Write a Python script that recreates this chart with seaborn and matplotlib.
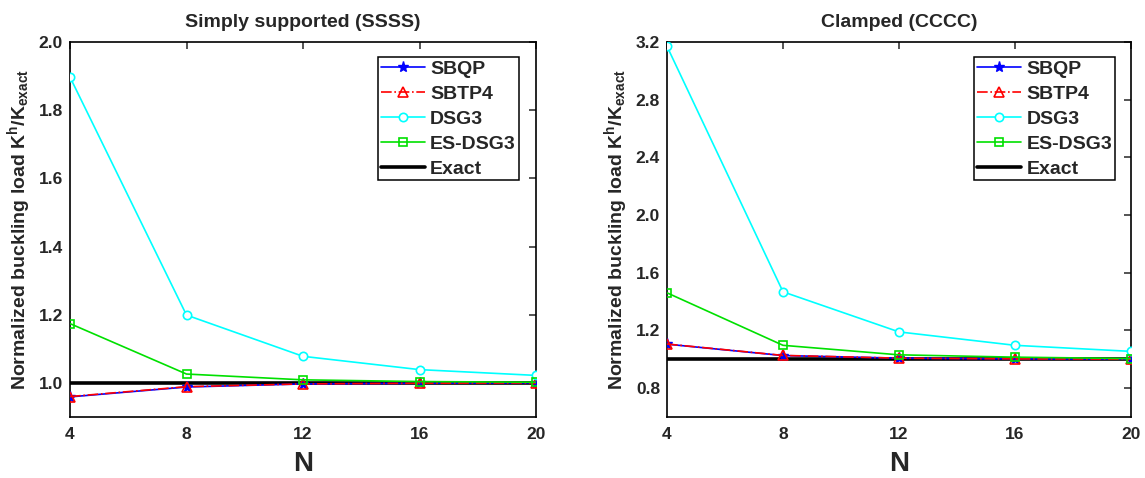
import matplotlib
matplotlib.use("Agg")
import matplotlib.pyplot as plt
import seaborn as sns
import pandas as pd

N = [4, 8, 12, 16, 20]

# Simply supported (SSSS)
ss_sbqp = [0.959, 0.988, 0.997, 0.999, 1.000]
ss_sbtp4 = [0.960, 0.989, 0.997, 0.999, 1.000]
ss_dsg3 = [1.897, 1.199, 1.078, 1.039, 1.022]
ss_esdsg3 = [1.174, 1.026, 1.009, 1.004, 1.002]
ss_exact = [1.0, 1.0, 1.0, 1.0, 1.0]

# Clamped (CCCC)
cc_sbqp = [1.105, 1.026, 1.008, 1.003, 1.001]
cc_sbtp4 = [1.106, 1.027, 1.008, 1.003, 1.001]
cc_dsg3 = [3.170, 1.468, 1.190, 1.097, 1.055]
cc_esdsg3 = [1.461, 1.097, 1.031, 1.015, 1.005]
cc_exact = [1.0, 1.0, 1.0, 1.0, 1.0]

titles = ["Simply supported (SSSS)", "Clamped (CCCC)"]
names = ["SBQP", "SBTP4", "DSG3", "ES-DSG3", "Exact"]
yticks_l = [1.0, 1.2, 1.4, 1.6, 1.8, 2.0]
yticks_r = [0.8, 1.2, 1.6, 2.0, 2.4, 2.8, 3.2]

sns.set_theme(style="white")
plt.rcParams["font.family"] = ["Liberation Sans", "DejaVu Sans"]
plt.rcParams["font.weight"] = "bold"
plt.rcParams["mathtext.default"] = "bf"
plt.rcParams["mathtext.fontset"] = "custom"
plt.rcParams["mathtext.bf"] = "Liberation Sans:bold"
plt.rcParams["mathtext.rm"] = "Liberation Sans:bold"

fig = plt.figure(figsize=(11.45, 4.78), dpi=100)
ax1 = fig.add_axes([70/1145, 61/478, 466/1145, 375/478])
ax2 = fig.add_axes([667/1145, 61/478, 464/1145, 375/478])

styles = {
    "SBQP": dict(color="#0000ff", marker="*", linestyle="-", lw=1.2, ms=8,
                 mfc="#0000ff", mec="#0000ff", mew=1.0),
    "SBTP4": dict(color="#ff0000", marker="^", linestyle="-.", lw=1.2, ms=7,
                  mfc="none", mec="#ff0000", mew=1.2),
    "DSG3": dict(color="#00ffff", marker="o", linestyle="-", lw=1.2, ms=6,
                 mfc="white", mec="#00ffff", mew=1.2),
    "ES-DSG3": dict(color="#00e000", marker="s", linestyle="-", lw=1.2, ms=6,
                    mfc="none", mec="#00e000", mew=1.2),
    "Exact": dict(color="black", marker=None, linestyle="-", lw=2.6),
}

panels = [
    (ax1, [ss_sbqp, ss_sbtp4, ss_dsg3, ss_esdsg3, ss_exact], (0.9, 2.0), yticks_l,
     titles[0], (0.963, 0.96)),
    (ax2, [cc_sbqp, cc_sbtp4, cc_dsg3, cc_esdsg3, cc_exact], (0.6, 3.2), yticks_r,
     titles[1], (0.9655, 0.96)),
]

for ax, series, ylim, yt, title, anchor in panels:
    for name, vals in zip(names, series):
        df = pd.DataFrame({"N": N, "val": vals})
        st = styles[name]
        kw = {}
        if st["marker"] is not None:
            kw = dict(marker=st["marker"], markersize=st["ms"],
                      markerfacecolor=st["mfc"], markeredgecolor=st["mec"],
                      markeredgewidth=st["mew"])
        sns.lineplot(data=df, x="N", y="val", ax=ax, color=st["color"],
                     linestyle=st["linestyle"], linewidth=st["lw"], label=name,
                     zorder=3 if name != "Exact" else 2, **kw)
    ax.set_xlim(4, 20)
    ax.set_ylim(*ylim)
    ax.set_xticks(N)
    ax.set_yticks(yt)
    ax.set_xticklabels([str(v) for v in N])
    ax.set_yticklabels([f"{v:.1f}" for v in yt])
    ax.tick_params(direction="in", length=5, width=1.1, top=True, right=True,
                   labelsize=12.5)
    ax.tick_params(axis="y", pad=5)
    ax.tick_params(axis="x", pad=7.5)
    for lab in ax.get_xticklabels() + ax.get_yticklabels():
        lab.set_fontweight("bold")
    for sp in ax.spines.values():
        sp.set_color("black")
        sp.set_linewidth(1.2)
    ax.set_title(title, fontsize=14, fontweight="bold", pad=11)
    ax.set_xlabel("N", fontsize=20, fontweight="bold", labelpad=6.5)
    ax.set_ylabel(r"Normalized buckling load K$^{h}$/K$_{exact}$", fontsize=14,
                  fontweight="bold", labelpad=4)
    leg = ax.legend(loc="upper right", bbox_to_anchor=anchor, fontsize=14,
                    frameon=True, fancybox=False, framealpha=1, edgecolor="black",
                    handlelength=2.3, borderpad=0.15, labelspacing=0.38,
                    handletextpad=0.25, borderaxespad=0)
    leg.get_frame().set_linewidth(1.1)
    for t in leg.get_texts():
        t.set_fontweight("bold")

fig.savefig("out.png", dpi=100)
